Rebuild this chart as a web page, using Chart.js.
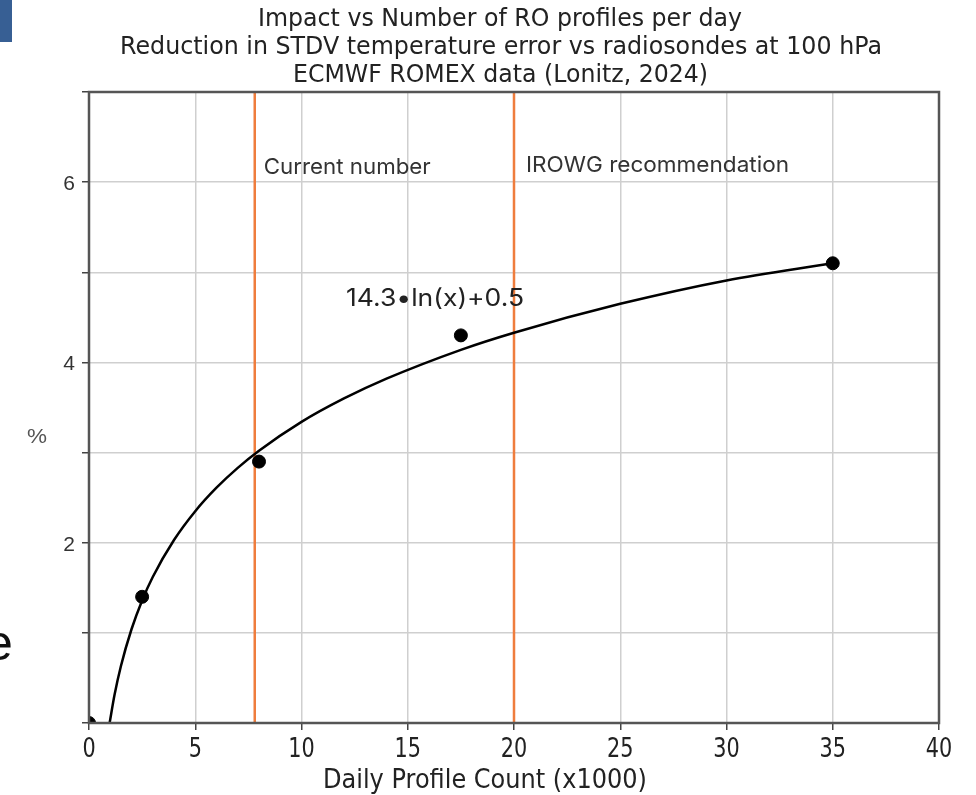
<!DOCTYPE html>
<html>
<head>
<meta charset="utf-8">
<script src="https://cdn.jsdelivr.net/npm/chart.js@4.4.1/dist/chart.umd.min.js"></script>
<style>
  html, body { margin: 0; padding: 0; background: #fff; overflow: hidden; }
  #wrap { position: relative; width: 976px; height: 795px; }
  #chart { position: absolute; left: 0; top: 0; }
  #blue { position: absolute; left: 0; top: 0; width: 12px; height: 42px; background: #375f94; }
  #stray { position: absolute; left: -15px; top: 614px; font: 50px "Liberation Sans", Arial, sans-serif; color: #111; }
</style>
</head>
<body>
<div id="wrap">
  <canvas id="chart" width="976" height="795"></canvas>
  <div id="blue"></div>
  <div id="stray">e</div>
</div>
<script>
// measured points
const obsX = [0, 2.5, 8, 17.5, 35];
const obsY = [0, 1.4, 2.9, 4.3, 5.1];

// fitted curve
const fitX = [0.97, 1.2, 1.5, 2, 2.5, 3, 4, 5, 6, 7, 8, 10, 12, 14, 17.5, 20, 25, 30, 35];
const fitY = [0, 0.31, 0.63, 1.04, 1.36, 1.62, 2.03, 2.35, 2.61, 2.83, 3.02, 3.34, 3.6, 3.82, 4.14, 4.33, 4.65, 4.91, 5.1];

// vertical markers
const markerX = [7.8, 20];
const markerText = ['Current number', 'IROWG recommendation'];

const titleLines = [
  'Impact vs Number of RO profiles per day',
  'Reduction in STDV temperature error vs radiosondes at 100 hPa',
  'ECMWF ROMEX data (Lonitz, 2024)'
];
const xTitle = 'Daily Profile Count (x1000)';
const fitLabel = '14.3\u2022ln(x)+0.5';

const xTicks = [0, 5, 10, 15, 20, 25, 30, 35, 40];
const yTicks = [0, 1, 2, 3, 4, 5, 6, 7];
const yLabelled = [2, 4, 6];

const ORANGE = '#ef7d3d';
const DEJAVU = '"DejaVu Sans", sans-serif';
const ARIAL = '"Liberation Sans", Arial, sans-serif';
const INTER = 'Inter, "Noto Sans", sans-serif';

const pts = (xs, ys) => xs.map((x, i) => ({ x, y: ys[i] }));

// draws text squeezed/stretched horizontally to a given width, starting at left
function fitText(ctx, text, left, cy, width, font) {
  ctx.save();
  ctx.font = font;
  ctx.textAlign = 'left';
  ctx.textBaseline = 'middle';
  const w = ctx.measureText(text).width;
  ctx.translate(left, cy);
  ctx.scale(width / w, 1);
  ctx.fillText(text, 0, 0);
  ctx.restore();
}

// centred text with a fixed horizontal squeeze
function squeezed(ctx, text, cx, cy, sx, font) {
  ctx.save();
  ctx.font = font;
  ctx.textAlign = 'center';
  ctx.textBaseline = 'middle';
  ctx.translate(cx, cy);
  ctx.scale(sx, 1);
  ctx.fillText(text, 0, 0);
  ctx.restore();
}

const datasets = [
  {
    type: 'line', data: pts(fitX, fitY), borderColor: '#000', borderWidth: 2.5,
    pointRadius: 0, cubicInterpolationMode: 'monotone', fill: false, order: 2
  },
  {
    type: 'scatter', data: pts(obsX, obsY), backgroundColor: '#000', borderColor: '#000',
    pointRadius: 6.5, clip: 0, order: 1
  }
];
markerX.forEach(x => datasets.push({
  type: 'line', data: [{ x, y: 0 }, { x, y: 7 }], borderColor: ORANGE, borderWidth: 2.5,
  pointRadius: 0, order: 3
}));

const overlay = {
  id: 'overlay',
  afterDraw(chart) {
    const { ctx, chartArea: a, scales: { x, y } } = chart;
    ctx.save();
    // frame
    ctx.strokeStyle = '#555';
    ctx.lineWidth = 2.5;
    ctx.strokeRect(a.left, a.top, a.right - a.left, a.bottom - a.top);

    // titles
    ctx.fillStyle = '#222';
    fitText(ctx, titleLines[0], 258, 19, 484, '25px ' + DEJAVU);
    fitText(ctx, titleLines[1], 120, 47, 762, '25px ' + DEJAVU);
    fitText(ctx, titleLines[2], 293, 75, 415, '25px ' + DEJAVU);

    // tick labels
    xTicks.forEach(v => squeezed(ctx, String(v), x.getPixelForValue(v), 750, 0.8, '26px ' + DEJAVU));
    ctx.fillStyle = '#333';
    yLabelled.forEach(v => squeezed(ctx, String(v), 69, y.getPixelForValue(v) + 2, 1, '21px ' + ARIAL));

    // x axis title
    ctx.fillStyle = '#222';
    fitText(ctx, xTitle, 323, 781, 324, '26px ' + DEJAVU);

    // marker labels
    ctx.fillStyle = '#333';
    fitText(ctx, markerText[0], x.getPixelForValue(markerX[0]) + 9, 167, 167, '22px ' + INTER);
    fitText(ctx, markerText[1], x.getPixelForValue(markerX[1]) + 12, 165, 263, '22px ' + INTER);

    // fit label
    ctx.fillStyle = '#222';
    fitText(ctx, fitLabel, 346, 299, 178, '24px ' + INTER);

    // y label
    ctx.fillStyle = '#555';
    fitText(ctx, '%', 27, 437, 20, '21px ' + ARIAL);
    ctx.restore();
  }
};

new Chart(document.getElementById('chart'), {
  data: { datasets },
  options: {
    responsive: false,
    animation: false,
    layout: { padding: { top: 92, right: 37, left: 0, bottom: 0 } },
    plugins: { legend: { display: false }, tooltip: { enabled: false }, title: { display: false } },
    scales: {
      x: {
        type: 'linear', min: 0, max: 40,
        afterBuildTicks: s => { s.ticks = xTicks.map(v => ({ value: v })); },
        afterFit: s => { s.height = 72; },
        ticks: { color: 'rgba(0,0,0,0)', font: { size: 12 }, maxRotation: 0 },
        grid: { color: '#cfcfcf', lineWidth: 1.5, tickLength: 7, tickColor: '#444' },
        border: { display: false }
      },
      y: {
        type: 'linear', min: 0, max: 7,
        afterBuildTicks: s => { s.ticks = yTicks.map(v => ({ value: v })); },
        afterFit: s => { s.width = 89; },
        ticks: { color: 'rgba(0,0,0,0)', font: { size: 12 } },
        grid: { color: '#cfcfcf', lineWidth: 1.5, tickLength: 7, tickColor: '#444' },
        border: { display: false }
      }
    }
  },
  plugins: [overlay]
});
</script>
</body>
</html>
